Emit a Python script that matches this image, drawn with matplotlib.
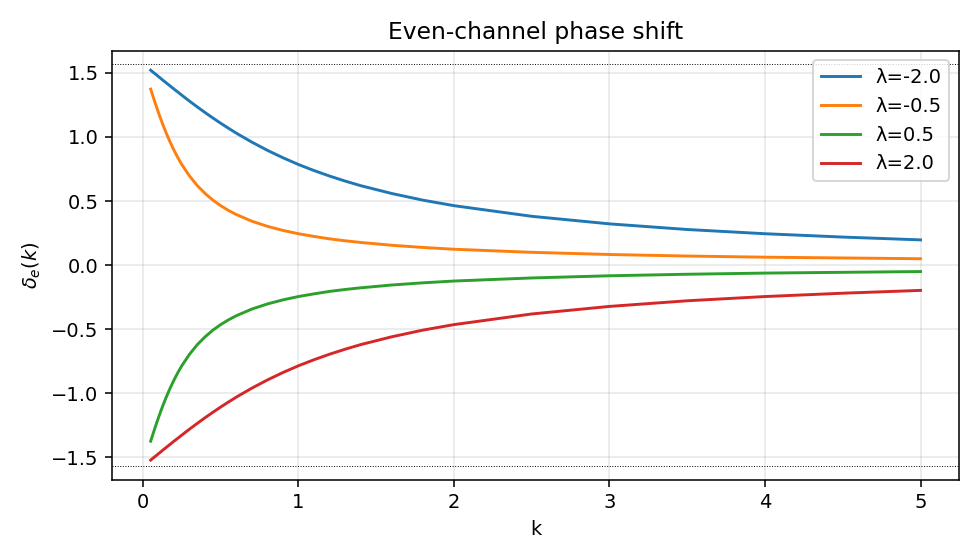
import math

import matplotlib
matplotlib.use('Agg')
from matplotlib import pyplot as plt

# k grid and phase shift values
k_values = [0.05, 0.0625, 0.075, 0.0875, 0.1, 0.1125, 0.125, 0.1375, 0.15, 0.175, 0.2, 0.225,
            0.25, 0.3, 0.35, 0.4, 0.45, 0.5, 0.55, 0.6, 0.7, 0.8, 0.9, 1.0, 1.1, 1.2, 1.3, 1.4,
            1.6, 1.8, 2.0, 2.5, 3.0, 3.5, 4.0, 4.5, 5.0]

delta_lam_m2 = [1.521, 1.508, 1.496, 1.484, 1.471, 1.459, 1.446, 1.434, 1.422, 1.398, 1.373,
                1.350, 1.326, 1.279, 1.234, 1.190, 1.148, 1.107, 1.068, 1.030, 0.960, 0.896,
                0.838, 0.785, 0.738, 0.695, 0.656, 0.620, 0.559, 0.507, 0.464, 0.381, 0.322,
                0.278, 0.245, 0.219, 0.197]
delta_lam_m05 = [1.373, 1.326, 1.279, 1.234, 1.190, 1.148, 1.107, 1.068, 1.030, 0.960, 0.896,
                 0.838, 0.785, 0.695, 0.620, 0.559, 0.507, 0.464, 0.427, 0.395, 0.343, 0.303,
                 0.271, 0.245, 0.224, 0.205, 0.190, 0.177, 0.155, 0.138, 0.124, 0.100, 0.083,
                 0.071, 0.062, 0.056, 0.050]
delta_lam_p05 = [-1.373, -1.326, -1.279, -1.234, -1.190, -1.148, -1.107, -1.068, -1.030, -0.960,
                 -0.896, -0.838, -0.785, -0.695, -0.620, -0.559, -0.507, -0.464, -0.427, -0.395,
                 -0.343, -0.303, -0.271, -0.245, -0.224, -0.205, -0.190, -0.177, -0.155, -0.138,
                 -0.124, -0.100, -0.083, -0.071, -0.062, -0.056, -0.050]
delta_lam_p2 = [-1.521, -1.508, -1.496, -1.484, -1.471, -1.459, -1.446, -1.434, -1.422, -1.398,
                -1.373, -1.350, -1.326, -1.279, -1.234, -1.190, -1.148, -1.107, -1.068, -1.030,
                -0.960, -0.896, -0.838, -0.785, -0.738, -0.695, -0.656, -0.620, -0.559, -0.507,
                -0.464, -0.381, -0.322, -0.278, -0.245, -0.219, -0.197]

labels = ['λ=-2.0', 'λ=-0.5', 'λ=0.5', 'λ=2.0']
series = [delta_lam_m2, delta_lam_m05, delta_lam_p05, delta_lam_p2]

fig, ax = plt.subplots(figsize=(7, 4), dpi=140)

for lab, vals in zip(labels, series):
    ax.plot(k_values, vals, label=lab, linewidth=1.5)

ax.axhline(y=math.pi / 2, color='k', linestyle=':', linewidth=0.5)
ax.axhline(y=-math.pi / 2, color='k', linestyle=':', linewidth=0.5)

ax.set_title('Even-channel phase shift')
ax.set_xlabel('k')
ax.set_ylabel(r'$\delta_e(k)$')
ax.grid(True, alpha=0.3)
ax.legend(loc='upper right')

plt.tight_layout()
plt.savefig('out.png', dpi=140)
